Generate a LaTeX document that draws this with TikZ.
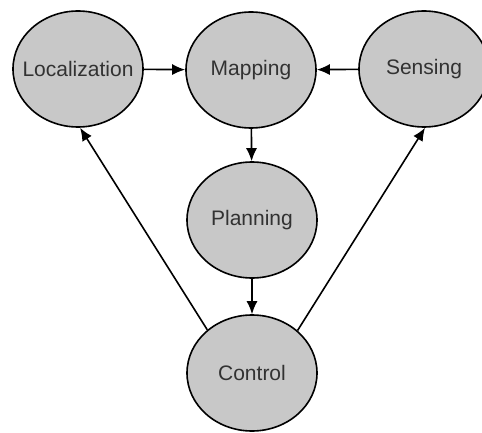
\documentclass[tikz,border=0pt]{standalone}
\usepackage{fontspec}
\setmainfont{Liberation Sans}
\usetikzlibrary{shapes.geometric,arrows.meta}
\definecolor{nodefill}{RGB}{200,200,200}
\definecolor{nodetext}{RGB}{50,50,50}
\begin{document}
\begin{tikzpicture}[x=1pt,y=-1pt,
    blob/.style={ellipse,draw=black,line width=1.6pt,fill=nodefill,text=nodetext,
        minimum width=130pt,minimum height=116pt,inner xsep=-15pt,inner ysep=0pt,
        font=\fontsize{21}{25}\selectfont},
    arr/.style={line width=1.6pt,-{Latex[length=13pt,width=11pt]}}]
    \useasboundingbox (0,0) rectangle (482,433);
    \node[blob] (loc) at (78,69) {Localization};
    \node[blob] (map) at (251,70) {Mapping};
    \node[blob] (sen) at (424,69) {Sensing};
    \node[blob] (plan) at (252,220) {Planning};
    \node[blob] (ctrl) at (252,373) {Control};
    \draw[arr] (loc) -- (map);
    \draw[arr] (sen) -- (map);
    \draw[arr] (map) -- (plan);
    \draw[arr] (plan) -- (ctrl);
    \draw[arr] (ctrl.136) -- (loc.-88);
    \draw[arr] (ctrl.43) -- (sen.-89);
\end{tikzpicture}
\end{document}
